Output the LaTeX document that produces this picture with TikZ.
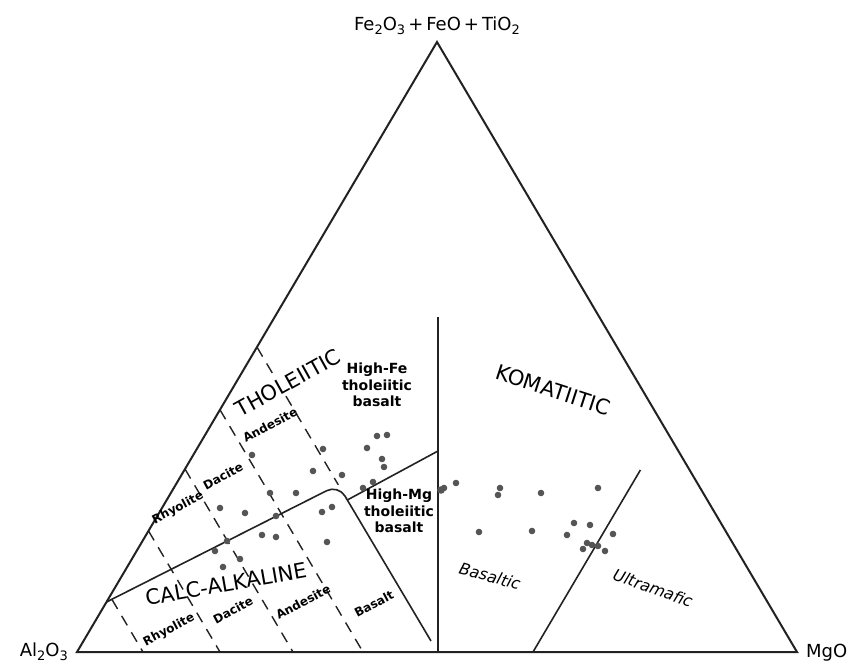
\documentclass[tikz,border=0pt]{standalone}
\usepackage{fontspec}
\setmainfont{DejaVu Sans}
\usepackage{tikz}

\definecolor{ink}{HTML}{222222}
\definecolor{dotgray}{HTML}{555555}
\newcommand{\chsub}[1]{\raisebox{-0.45ex}{\fontsize{13}{13}\selectfont #1}}

\begin{document}
\begin{tikzpicture}[x=1pt,y=-1pt, % pixel grid of the plot, y downwards
   edge/.style={ink,line width=2pt,line join=miter},
   bound/.style={ink,line width=1.6pt},
   split/.style={ink,line width=1.4pt,dash pattern=on 11pt off 8pt},
   rock/.style={font=\bfseries\fontsize{12}{12}\selectfont,rotate=28,inner sep=0pt},
   field/.style={font=\fontsize{21}{21}\selectfont,inner sep=1pt},
   lava/.style={font=\itshape\fontsize{16}{16}\selectfont,inner sep=0pt}]
   \fill[white] (0,0) rectangle (852,662);
   \useasboundingbox (0,0) rectangle (852,662);

   \coordinate (al) at ( 77,652);
   \coordinate (fe) at (437, 42);
   \coordinate (mg) at (797,652);
   \draw[edge] (al) -- (fe) -- (mg) -- cycle;

   % field boundaries
   \draw[bound] (438,317) -- (438,652);
   \draw[bound,rounded corners=13pt] (106.5,602) -- (338.3,484.8) -- (431,641);
   \draw[bound] (347.3,500) -- (438,451);
   \draw[bound] (533,652) -- (640.4,470);

   % rock divisions
   \draw[split] (112.0,599.5) -- (143,652);
   \draw[split] (148.5,530.9) -- (220,652);
   \draw[split] (185.0,469.0) -- (293,652);
   \draw[split] (220.0,409.8) -- (363,652);
   \draw[split] (257.0,347.1) -- (338.3,484.8);

   % samples
   \fill[dotgray] (252,455) circle(3.3);
   \fill[dotgray] (323,449) circle(3.3);
   \fill[dotgray] (367,448) circle(3.3);
   \fill[dotgray] (377,436) circle(3.3);
   \fill[dotgray] (387,435) circle(3.3);
   \fill[dotgray] (382,459) circle(3.3);
   \fill[dotgray] (384,467) circle(3.3);
   \fill[dotgray] (313,471) circle(3.3);
   \fill[dotgray] (342,475) circle(3.3);
   \fill[dotgray] (270,493) circle(3.3);
   \fill[dotgray] (296,493) circle(3.3);
   \fill[dotgray] (363,488) circle(3.3);
   \fill[dotgray] (373,482) circle(3.3);
   \fill[dotgray] (220,508) circle(3.3);
   \fill[dotgray] (245,513) circle(3.3);
   \fill[dotgray] (276,516) circle(3.3);
   \fill[dotgray] (227,541) circle(3.3);
   \fill[dotgray] (262,535) circle(3.3);
   \fill[dotgray] (276,537) circle(3.3);
   \fill[dotgray] (215,551) circle(3.3);
   \fill[dotgray] (240,559) circle(3.3);
   \fill[dotgray] (223,567) circle(3.3);
   \fill[dotgray] (327,542) circle(3.3);
   \fill[dotgray] (322,512) circle(3.3);
   \fill[dotgray] (332,507) circle(3.3);
   \fill[dotgray] (441,490) circle(3.8);
   \fill[dotgray] (444,488) circle(3.3);
   \fill[dotgray] (456,483) circle(3.3);
   \fill[dotgray] (500,488) circle(3.3);
   \fill[dotgray] (498,495) circle(3.3);
   \fill[dotgray] (541,493) circle(3.3);
   \fill[dotgray] (598,488) circle(3.3);
   \fill[dotgray] (479,532) circle(3.3);
   \fill[dotgray] (532,531) circle(3.3);
   \fill[dotgray] (574,523) circle(3.3);
   \fill[dotgray] (590,525) circle(3.3);
   \fill[dotgray] (567,535) circle(3.3);
   \fill[dotgray] (587,543) circle(3.3);
   \fill[dotgray] (592,545) circle(3.3);
   \fill[dotgray] (598,546) circle(3.3);
   \fill[dotgray] (583,549) circle(3.3);
   \fill[dotgray] (613,534) circle(3.3);
   \fill[dotgray] (605,551) circle(3.3);

   % corners
   \node[anchor=base,font=\fontsize{18}{18}\selectfont,inner sep=0pt] (fetop) at (437,30)
      {Fe\chsub{2}O\chsub{3}\,+\,FeO\,+\,TiO\chsub{2}};
   \node[anchor=base east,font=\fontsize{18}{18}\selectfont,inner sep=0pt] (alleft) at (68,656)
      {Al\chsub{2}O\chsub{3}};
   \node[anchor=base west,font=\fontsize{18}{18}\selectfont,inner sep=0pt] (mgright) at (806,657) {MgO};

   % series
   \node[field,fill=white,rotate=29] (thol) at (288,383) {THOLEIITIC};
   \node[field,rotate=10] (calc) at (226,584) {CALC-ALKALINE};
   \node[field,rotate=-18] (koma) at (553,390) {KOMATIITIC};

   \node[font=\bfseries\fontsize{14}{16.5}\selectfont,align=center,inner sep=0pt] (hft) at (377,385)
      {High-Fe\\tholeiitic\\basalt};
   \node[font=\bfseries\fontsize{14}{16.5}\selectfont,align=center,inner sep=0pt] (hmt) at (399,511)
      {High-Mg\\tholeiitic\\basalt};
   \node[lava,rotate=-16] (bas) at (490,576) {Basaltic};
   \node[lava,rotate=-20] (umf) at (653,588) {Ultramafic};

   \node[rock] (thrhy) at (178,508) {Rhyolite};
   \node[rock] (thdac) at (223,476) {Dacite};
   \node[rock] (thand) at (270,425) {Andesite};
   \node[rock] (carhy) at (169,630) {Rhyolite};
   \node[rock] (cadac) at (233,610) {Dacite};
   \node[rock] (caand) at (303,602) {Andesite};
   \node[rock] (cabas) at (374,604) {Basalt};
\end{tikzpicture}
\end{document}
